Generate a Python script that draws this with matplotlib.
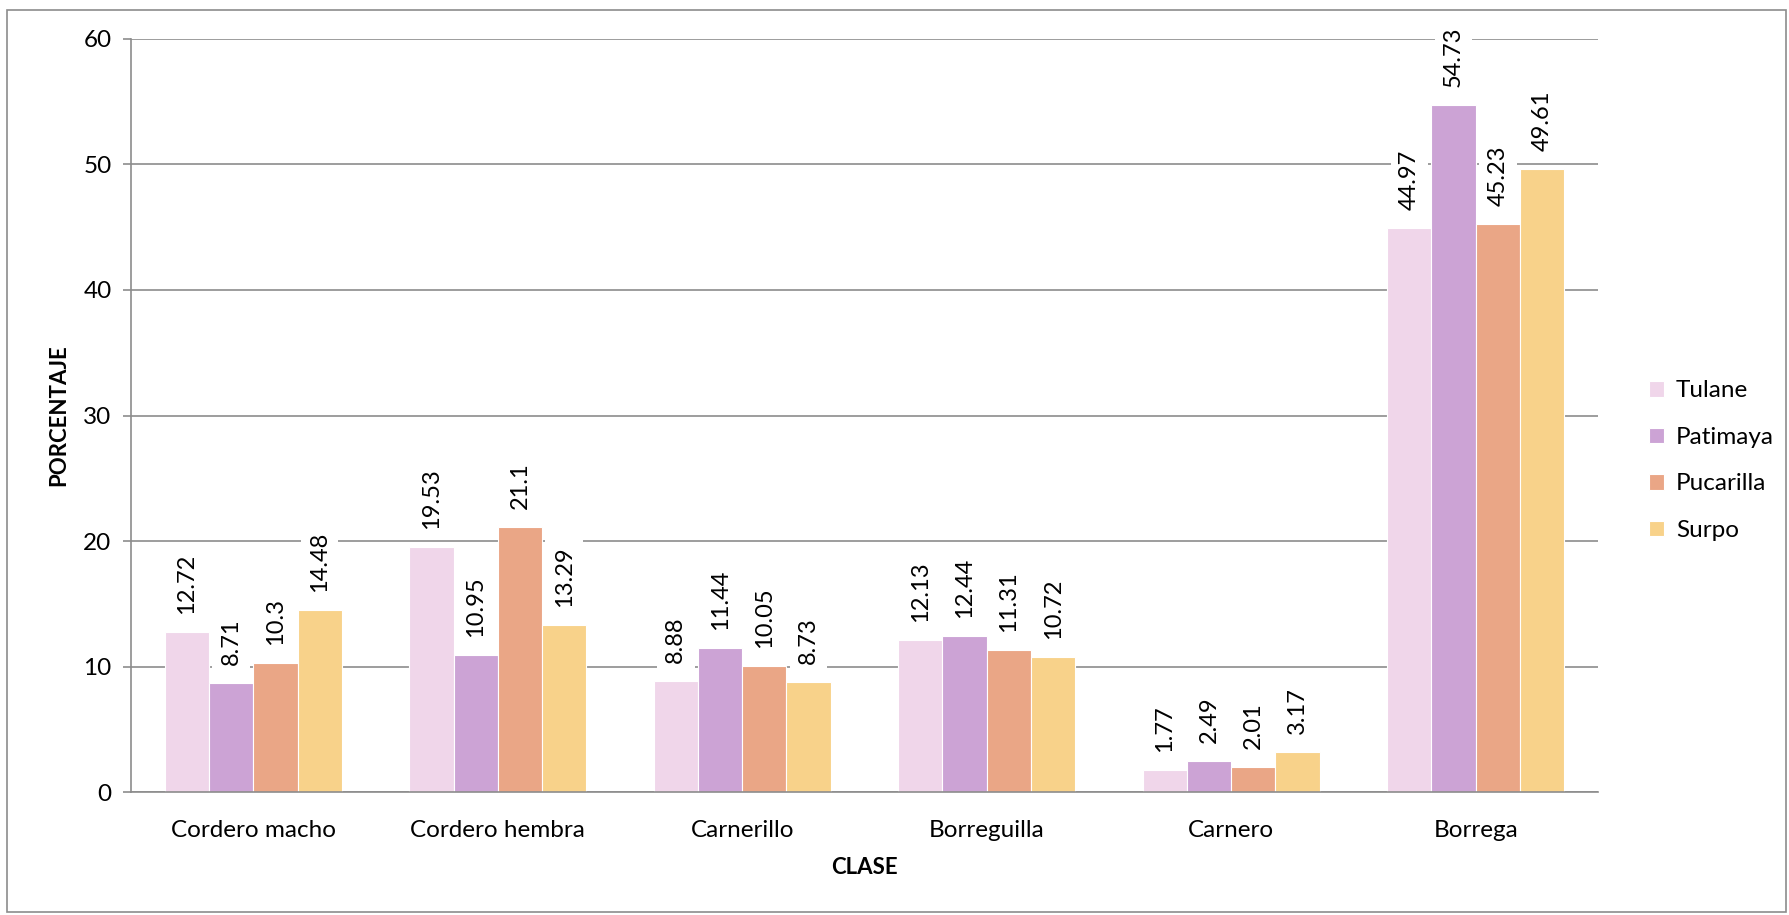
import numpy as np
import matplotlib
matplotlib.use("Agg")
import matplotlib.pyplot as plt
from matplotlib.patches import Rectangle

plt.rcParams['font.family'] = ['Lato', 'DejaVu Sans']

categories = ["Cordero macho", "Cordero hembra", "Carnerillo",
              "Borreguilla", "Carnero", "Borrega"]
series = ["Tulane", "Patimaya", "Pucarilla", "Surpo"]
tulane = [12.72, 19.53, 8.88, 12.13, 1.77, 44.97]
patimaya = [8.71, 10.95, 11.44, 12.44, 2.49, 54.73]
pucarilla = [10.3, 21.1, 10.05, 11.31, 2.01, 45.23]
surpo = [14.48, 13.29, 8.73, 10.72, 3.17, 49.61]
values = [tulane, patimaya, pucarilla, surpo]
colors = ["#F0D6EA", "#CCA3D5", "#EAA686", "#F8D28A"]


def main():
    fig = plt.figure(figsize=(17.9, 9.15), dpi=100)
    ax = fig.add_axes([0.0732, 0.1344, 0.8195, 0.823])
    fig.patches.append(Rectangle((0.004, 0.003), 0.994, 0.986,
                                 transform=fig.transFigure, fill=False,
                                 edgecolor="#8c8c8c", linewidth=1.2))

    x = np.arange(len(categories))
    w = 0.181
    for i, (name, vals) in enumerate(zip(series, values)):
        pos = x + (i - 1.5) * w
        ax.bar(pos, vals, w, color=colors[i], edgecolor="white",
               linewidth=0.8, label=name, zorder=2)
        for p, v in zip(pos, vals):
            ax.annotate(f"{v:g}", (p, v), xytext=(0, 13),
                        textcoords="offset points", rotation=90,
                        ha="center", va="bottom", fontsize=17,
                        bbox=dict(boxstyle="square,pad=0.35", fc="white",
                                  ec="none"), zorder=3)

    ax.set_xlim(-0.5, len(categories) - 0.5)
    ax.set_ylim(0, 60)
    ax.set_yticks(range(0, 61, 10))
    ax.yaxis.grid(True, color="#8c8c8c", linewidth=1.2, zorder=0)
    ax.set_axisbelow(True)
    ax.set_xticks(x)
    ax.set_xticklabels(categories)
    ax.tick_params(axis="x", length=0, pad=20, labelsize=17.5)
    ax.tick_params(axis="y", length=6, width=1.2, color="#8c8c8c",
                   labelsize=17.5, pad=8)
    for s in ["top", "right"]:
        ax.spines[s].set_visible(False)
    for s in ["left", "bottom"]:
        ax.spines[s].set_color("#8c8c8c")
        ax.spines[s].set_linewidth(1.2)

    ax.set_xlabel("CLASE", fontsize=16, fontweight="bold", labelpad=12)
    ax.set_ylabel("PORCENTAJE", fontsize=16, fontweight="bold", labelpad=10)

    ax.legend(loc="center left", bbox_to_anchor=(1.02, 0.44), frameon=False,
              fontsize=17.5, handlelength=0.6, handleheight=0.6,
              labelspacing=1.05, handletextpad=0.5)

    fig.savefig("out.png")


if __name__ == "__main__":
    main()
